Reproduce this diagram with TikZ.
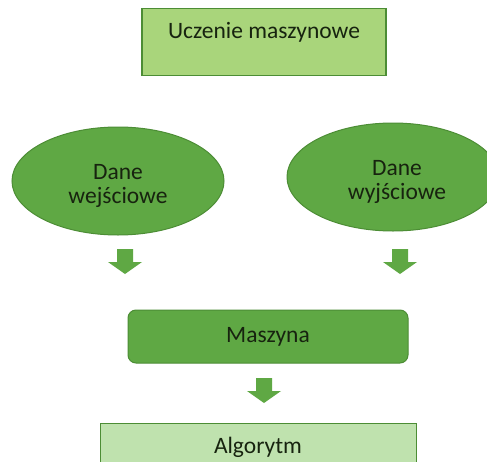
\documentclass[tikz,border=0pt]{standalone}
\usepackage{fontspec}
\setmainfont{Carlito}
\usetikzlibrary{shapes.geometric}

\definecolor{leaf}{HTML}{5FA844}
\definecolor{leafdark}{HTML}{4C8D35}
\definecolor{lime}{HTML}{A9D57B}
\definecolor{mint}{HTML}{BFE2AE}
\definecolor{ink}{HTML}{17230F}

\tikzset{
  pics/downarrow/.style={code={
    \fill[leaf] (-8,0) -- (8,0) -- (8,13) -- (17,13) -- (0,25)
      -- (-17,13) -- (-8,13) -- cycle;
  }}
}

\begin{document}
\begin{tikzpicture}[x=1pt,y=-1pt,
    every node/.style={font=\fontsize{23.5}{23.5}\selectfont, text=ink},
    title/.style={draw=leafdark, fill=lime, line width=1.2pt, inner sep=0pt,
      minimum width=244pt, text height=30pt, text depth=37pt},
    data/.style={ellipse, draw=leafdark, fill=leaf, line width=1pt,
      minimum width=212pt, minimum height=108pt},
    datatext/.style={align=center, yshift=-5pt},
    machine/.style={rectangle, rounded corners=8pt, draw=leafdark, fill=leaf,
      line width=1pt, minimum width=280pt, minimum height=53pt},
    result/.style={draw=leafdark, fill=mint, line width=1pt,
      minimum width=316pt, minimum height=48pt}]
    \useasboundingbox (0,0) rectangle (487,461);
    \fill[white] (0,0) rectangle (487,461);
    % main blocks
    \node[title] (ml) at (264,42) {Uczenie maszynowe};
    \node[data, label={[datatext]center:Dane\\wejściowe}] (in) at (118,181) {};
    \node[data, label={[datatext, xshift=4pt]center:Dane\\wyjściowe}] (out) at (393,177) {};
    \node[machine] (mach) at (268,336.5) {Maszyna};
    \node[result] (algo) at (258,447) {Algorytm};
    % block arrows
    \coordinate (a1) at (125,249);
    \coordinate (a2) at (400,249);
    \coordinate (a3) at (264,378);
    \pic at (a1) {downarrow};
    \pic at (a2) {downarrow};
    \pic at (a3) {downarrow};
\end{tikzpicture}
\end{document}
